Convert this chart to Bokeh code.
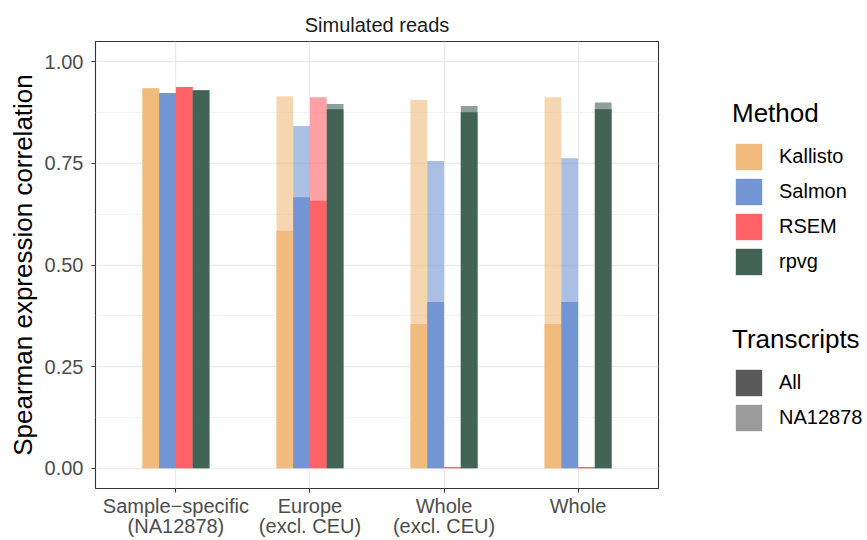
from bokeh.plotting import figure
from bokeh.layouts import row
from bokeh.models import (ColumnDataSource, Range1d, FixedTicker, PrintfTickFormatter,
                          Legend, LegendItem)
from bokeh.transform import dodge
from bokeh.embed import file_html
from bokeh.resources import INLINE

# Reference panels (x axis categories)
categories = ["Sample\u2212specific\n(NA12878)", "Europe\n(excl. CEU)",
              "Whole\n(excl. CEU)", "Whole"]
methods = ["Kallisto", "Salmon", "RSEM", "rpvg"]
method_colors = ["#F0BB7C", "#7395D4", "#FF6368", "#426355"]

# Spearman correlation, all transcripts
all_kallisto = [0.935, 0.584, 0.355, 0.355]
all_salmon = [0.923, 0.667, 0.409, 0.409]
all_rsem = [0.938, 0.658, 0.003, 0.003]
all_rpvg = [0.930, 0.883, 0.876, 0.883]

# Spearman correlation, NA12878 transcripts only
na_kallisto = [0.935, 0.915, 0.906, 0.913]
na_salmon = [0.923, 0.842, 0.756, 0.763]
na_rsem = [0.938, 0.913, 0.003, 0.003]
na_rpvg = [0.930, 0.896, 0.891, 0.900]

transcripts = ["All", "NA12878"]
y_ticks = [0.0, 0.25, 0.5, 0.75, 1.0]

all_values = [all_kallisto, all_salmon, all_rsem, all_rpvg]
na_values = [na_kallisto, na_salmon, na_rsem, na_rpvg]

BAR_W = 0.125
NA_ALPHA = 0.6
FONT = "Liberation Sans"

p = figure(width=660, height=540, output_backend="svg", toolbar_location=None,
           x_range=Range1d(0.4, 4.6), y_range=Range1d(-0.05, 1.05),
           min_border_left=95, min_border_right=2,
           min_border_top=41, min_border_bottom=51,
           background_fill_color="white", border_fill_color="white")

p.outline_line_color = "#333333"
p.outline_line_width = 1.1

# Title
p.title.text = "Simulated reads"
p.title.align = "center"
p.title.text_font = FONT
p.title.text_font_size = "20px"
p.title.text_font_style = "normal"
p.title.text_color = "#1A1A1A"
p.title.standoff = 12

# Grid
p.xgrid.grid_line_color = "#EBEBEB"
p.xgrid.grid_line_width = 1.3
p.ygrid.grid_line_color = "#EBEBEB"
p.ygrid.grid_line_width = 1.3
p.ygrid.minor_grid_line_color = "#EFEFEF"
p.ygrid.minor_grid_line_width = 0.8

# Axes
cat_pos = list(range(1, len(categories) + 1))
p.xaxis.ticker = FixedTicker(ticks=cat_pos)
p.xaxis.major_label_overrides = {float(i): c for i, c in zip(cat_pos, categories)}
p.yaxis.ticker = FixedTicker(ticks=y_ticks,
                             minor_ticks=[0.125, 0.375, 0.625, 0.875])
p.yaxis.formatter = PrintfTickFormatter(format="%.2f")
p.yaxis.axis_label = "Spearman expression correlation"

for ax in (p.xaxis[0], p.yaxis[0]):
    ax.axis_line_color = None
    ax.major_tick_line_color = "#333333"
    ax.major_tick_line_width = 1.1
    ax.major_tick_out = 4
    ax.major_tick_in = 0
    ax.minor_tick_line_color = None
    ax.major_label_text_font = FONT
    ax.major_label_text_font_size = "20px"
    ax.major_label_text_color = "#4D4D4D"
    ax.axis_label_text_font = FONT
    ax.axis_label_text_font_size = "26px"
    ax.axis_label_text_font_style = "normal"
    ax.axis_label_text_color = "black"

p.xaxis.major_label_standoff = 2
p.xaxis.major_label_text_line_height = 0.95
p.yaxis.major_label_standoff = 8
p.yaxis.axis_label_standoff = 4

# Bars: NA12878 (translucent) behind All (opaque), dodged by method
offsets = [-0.1875, -0.0625, 0.0625, 0.1875]
for name, color, off, av, nv in zip(methods, method_colors, offsets,
                                    all_values, na_values):
    src = ColumnDataSource(dict(x=cat_pos, all=av, na=nv))
    p.vbar(x=dodge("x", off), top="na", bottom=0, width=BAR_W, source=src,
           fill_color=color, fill_alpha=NA_ALPHA, line_color=None)
    p.vbar(x=dodge("x", off), top="all", bottom=0, width=BAR_W, source=src,
           fill_color=color, fill_alpha=1.0, line_color=None)

# Side panel holding the two legends
leg = figure(width=207, height=540, output_backend="svg", toolbar_location=None,
             x_range=Range1d(0, 1), y_range=Range1d(0, 1),
             x_axis_location=None, y_axis_location=None,
             min_border=0, outline_line_color=None,
             background_fill_color="white", border_fill_color="white")
leg.grid.visible = False


def key_renderer(color, alpha=1.0):
    # zero-height stub: only its legend swatch is visible
    src = ColumnDataSource(dict(x=[0.5], top=[0.0]))
    return leg.vbar(x="x", top="top", bottom=0, width=0.1, source=src,
                    fill_color=color, fill_alpha=alpha, line_color=None)


method_keys = [key_renderer(c) for c in method_colors]
tr_keys = [key_renderer("#595959", a) for a in (1.0, NA_ALPHA)]


def make_legend(title, items, loc):
    lg = Legend(items=items, title=title, location=loc)
    lg.title_text_font = FONT
    lg.title_text_font_size = "26px"
    lg.title_text_font_style = "normal"
    lg.title_text_color = "black"
    lg.title_standoff = 11
    lg.label_text_font = FONT
    lg.label_text_font_size = "20px"
    lg.label_text_color = "black"
    lg.glyph_width = 33
    lg.glyph_height = 33
    lg.label_height = 33
    lg.label_standoff = 14
    lg.spacing = 2
    lg.padding = 0
    lg.margin = 0
    lg.border_line_alpha = 0
    lg.background_fill_alpha = 0
    lg.click_policy = "none"
    return lg


legend_method = make_legend(
    "Method",
    [LegendItem(label=m, renderers=[r]) for m, r in zip(methods, method_keys)],
    (72, 210))
legend_tr = make_legend(
    "Transcripts",
    [LegendItem(label=t, renderers=[r]) for t, r in zip(transcripts, tr_keys)],
    (72, 54))
leg.add_layout(legend_method, "center")
leg.add_layout(legend_tr, "center")

layout = row(p, leg, spacing=0)
open("out.html", "w").write(file_html(layout, INLINE))
